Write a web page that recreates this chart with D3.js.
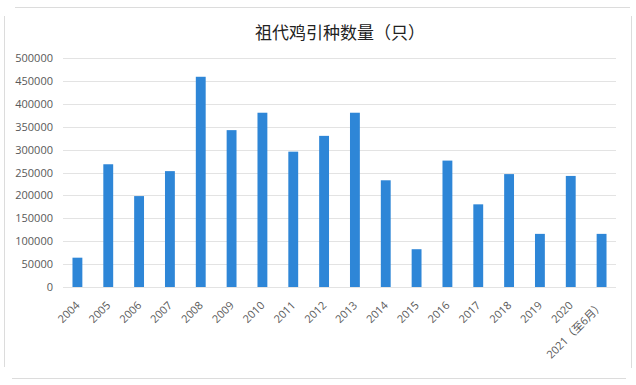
<!DOCTYPE html>
<html>
<head>
<meta charset="utf-8">
<script src="https://cdn.jsdelivr.net/npm/d3@7"></script>
<style>
body { margin: 0; background: #fff; }
svg { display: block; }
.tick text { font-family: "Open Sans", "Noto Sans CJK SC", sans-serif; font-size: 11px; fill: #595959; }
</style>
</head>
<body>
<svg id="chart" width="636" height="385"></svg>
<script>
// data
const years = ["2004", "2005", "2006", "2007", "2008", "2009", "2010", "2011", "2012",
  "2013", "2014", "2015", "2016", "2017", "2018", "2019", "2020", "2021（至6月）"];
const imports = [64000, 268000, 198500, 253000, 459000, 342500, 380500, 295500, 330000,
  380500, 233000, 82500, 276000, 180500, 246500, 116000, 242500, 116000];
const yTicks = [0, 50000, 100000, 150000, 200000, 250000, 300000, 350000, 400000, 450000, 500000];
const title = "祖代鸡引种数量（只）";

const svg = d3.select("#chart");

// frame lines from the screenshot
const frame = svg.append("g").attr("stroke", "#dcdcdc").attr("stroke-width", 1);
frame.append("line").attr("x1", 15).attr("x2", 630).attr("y1", 7.5).attr("y2", 7.5);
frame.append("line").attr("x1", 4.5).attr("x2", 4.5).attr("y1", 16).attr("y2", 367);
frame.append("line").attr("x1", 631.5).attr("x2", 631.5).attr("y1", 16).attr("y2", 368);
frame.append("line").attr("x1", 12).attr("x2", 626).attr("y1", 378.5).attr("y2", 378.5);

const x = d3.scaleBand().domain(years).range([62, 617]).paddingInner(0.68).paddingOuter(0.34);
const y = d3.scaleLinear().domain([0, 500000]).range([287, 58]);

// gridlines
svg.append("g")
  .selectAll("line")
  .data(yTicks)
  .join("line")
  .attr("x1", 63).attr("x2", 616)
  .attr("y1", d => Math.round(y(d)) + 0.5)
  .attr("y2", d => Math.round(y(d)) + 0.5)
  .attr("stroke", "#e3e3e3");

// y axis labels
const yAxis = svg.append("g")
  .attr("transform", "translate(53,0)")
  .call(d3.axisLeft(y).tickValues(yTicks).tickFormat(d3.format("d")).tickSize(0).tickPadding(0));
yAxis.select(".domain").remove();

// bars
svg.append("g")
  .selectAll("rect")
  .data(imports)
  .join("rect")
  .attr("x", (d, i) => x(years[i]))
  .attr("y", d => y(d))
  .attr("width", x.bandwidth())
  .attr("height", d => y(0) - y(d))
  .attr("fill", "#2e86d7");

// x axis labels
const xAxis = svg.append("g")
  .attr("transform", "translate(0,287)")
  .call(d3.axisBottom(x).tickSize(0).tickPadding(0));
xAxis.select(".domain").remove();
xAxis.selectAll(".tick text")
  .attr("text-anchor", "end")
  .attr("dy", 0)
  .attr("transform", "translate(3,19) rotate(-45)");

// title
svg.append("text")
  .attr("x", 340)
  .attr("y", 39)
  .attr("text-anchor", "middle")
  .attr("font-family", "Noto Sans CJK SC")
  .attr("font-size", 17)
  .attr("fill", "#222")
  .text(title);
</script>
</body>
</html>
